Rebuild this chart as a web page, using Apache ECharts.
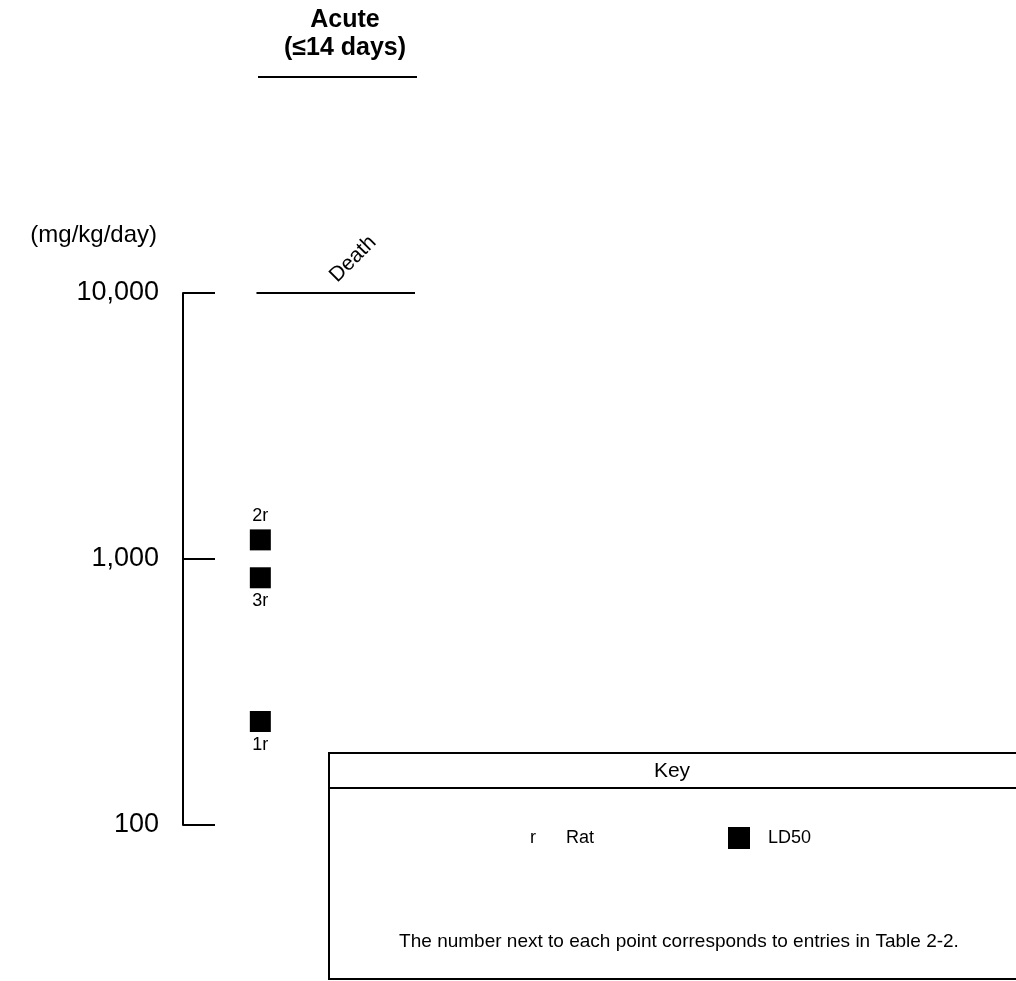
<!DOCTYPE html>
<html>
<head>
<meta charset="utf-8">
<script src="https://cdn.jsdelivr.net/npm/echarts@6/dist/echarts.min.js"></script>
<style>
  html, body { margin: 0; padding: 0; background: #fff; }
  #chart { width: 1016px; height: 981px; }
</style>
</head>
<body>
<div id="chart"></div>
<script>
// 데이터
const pointLabels = ["1r", "2r", "3r"];
const doseValues = [245, 1180, 850]; // mg/kg/day
const labelSides = ["bottom", "top", "bottom"];
const yTicks = [100, 1000, 10000];
const deathLevel = 10000;
const FONT = "'Liberation Sans', Arial, sans-serif";

const chart = echarts.init(document.getElementById("chart"));

// 점 데이터 (x = 1 은 Acute 열)
const points = doseValues.map((v, i) => ({
  value: [1, v],
  label: {
    show: true,
    formatter: pointLabels[i],
    position: labelSides[i],
    distance: 4
  }
}));

chart.setOption({
  animation: false,
  title: {
    text: "Acute\n(≤14 days)",
    left: 340,
    top: 1,
    textAlign: "center",
    textStyle: { fontFamily: FONT, fontSize: 25, fontWeight: "bold", lineHeight: 28, color: "#000" }
  },
  legend: {
    data: [{ name: "LD50", icon: "rect" }],
    left: 728,
    top: 827,
    padding: 0,
    itemWidth: 22,
    itemHeight: 22,
    itemStyle: { opacity: 1, color: "#000" },
    textStyle: { fontFamily: FONT, fontSize: 18, color: "#000", padding: [0, 0, 0, 13] }
  },
  grid: { left: 183, top: 293, width: 232, height: 532 },
  xAxis: { type: "value", min: 0, max: 3, show: false },
  yAxis: {
    type: "log",
    logBase: 10,
    min: yTicks[0],
    max: yTicks[yTicks.length - 1],
    name: "(mg/kg/day)",
    nameLocation: "end",
    nameGap: 46,
    nameTextStyle: { fontFamily: FONT, fontSize: 24, color: "#000", align: "right", padding: [0, 26, 0, 0] },
    axisLine: { show: true, lineStyle: { color: "#000", width: 2 } },
    axisTick: { show: true, inside: true, length: 32, lineStyle: { color: "#000", width: 2 } },
    splitLine: { show: false },
    axisLabel: {
      margin: 24,
      fontFamily: FONT,
      fontSize: 27,
      color: "#000",
      formatter: (v) => Math.round(v).toLocaleString("en-US")
    }
  },
  series: [{
    name: "LD50",
    type: "scatter",
    symbol: "rect",
    symbolSize: 21,
    itemStyle: { color: "#000", opacity: 1 },
    label: { fontFamily: FONT, fontSize: 18, color: "#000" },
    emphasis: { disabled: true },
    data: points,
    markLine: {
      silent: true,
      symbol: "none",
      label: { show: false },
      lineStyle: { color: "#000", width: 2, type: "solid", opacity: 1 },
      data: [[{ coord: [0.95, deathLevel] }, { coord: [3, deathLevel] }]]
    }
  }],
  graphic: [
    // 제목 밑줄
    { type: "line", shape: { x1: 258, y1: 77, x2: 417, y2: 77 }, style: { stroke: "#000", lineWidth: 2 } },
    // Death 라벨
    {
      type: "text", x: 353, y: 259, rotation: Math.PI / 4,
      style: { text: "Death", fontFamily: FONT, fontSize: 21, fill: "#000", align: "center", verticalAlign: "middle" }
    },
    // Key 상자
    { type: "rect", shape: { x: 329, y: 753, width: 720, height: 226 }, style: { fill: "none", stroke: "#000", lineWidth: 2 } },
    { type: "line", shape: { x1: 329, y1: 788, x2: 1016, y2: 788 }, style: { stroke: "#000", lineWidth: 2 } },
    {
      type: "text", x: 672, y: 771,
      style: { text: "Key", fontFamily: FONT, fontSize: 21, fill: "#000", align: "center", verticalAlign: "middle" }
    },
    {
      type: "text", x: 533, y: 838,
      style: { text: "r", fontFamily: FONT, fontSize: 18, fill: "#000", align: "center", verticalAlign: "middle" }
    },
    {
      type: "text", x: 566, y: 838,
      style: { text: "Rat", fontFamily: FONT, fontSize: 18, fill: "#000", align: "left", verticalAlign: "middle" }
    },
    {
      type: "text", x: 679, y: 942,
      style: { text: "The number next to each point corresponds to entries in Table 2-2.", fontFamily: FONT, fontSize: 19, fill: "#000", align: "center", verticalAlign: "middle" }
    }
  ]
});
</script>
</body>
</html>
